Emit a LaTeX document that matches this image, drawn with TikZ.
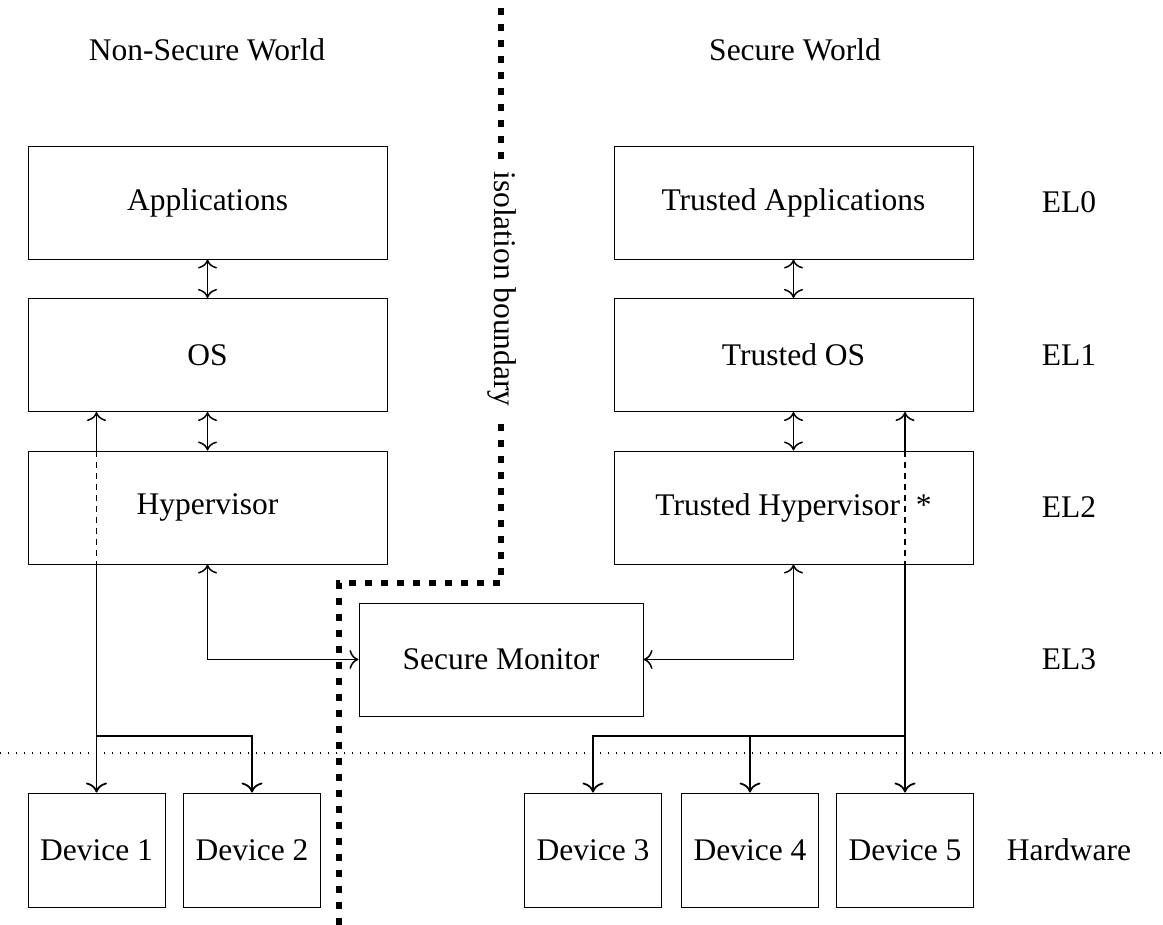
\documentclass[tikz,border=0pt]{standalone}
\usepackage{fontspec}
\setmainfont{Liberation Serif}
\usetikzlibrary{arrows.meta}
\begin{document}
\begin{tikzpicture}[x=0.5pt,y=-0.5pt,
  every node/.style={font=\fontsize{15.75}{19}\selectfont},
  tip/.tip={To[scale=1.4]},
  layer/.style={draw, line width=0.45pt, minimum width=179.5pt, minimum height=56.5pt, inner sep=0pt},
  device/.style={draw, line width=0.45pt, minimum width=68.5pt, minimum height=57pt, inner sep=0pt},
  link/.style={line width=0.75pt, tip-tip},
  uplink/.style={line width=0.75pt, tip-},
  bus/.style={line width=0.9pt, -tip},
  passthru/.style={line width=0.75pt, dash pattern=on 3pt off 2.5pt},
  boundary/.style={line width=3pt, dash pattern=on 3.5pt off 4.5pt},
  hwline/.style={line width=0.6pt, dash pattern=on 0.6pt off 3.4pt},
]
\useasboundingbox (0,0) rectangle (1163,925);

% world headings
\node (nsw) at (207,50) {Non-Secure World};
\node (sw)  at (795,50) {Secure World};

% non-secure stack
\node[layer] (app) at (207.5,202.5) {Applications};
\node[layer] (os)  at (207.5,355)   {OS};
\node[layer] (hyp) at (207.5,507.5) {Hypervisor};

% secure stack
\node[layer] (tapp) at (793.5,202.5) {Trusted Applications};
\node[layer] (tos)  at (793.5,355)   {Trusted OS};
\node[layer] (thyp) at (793.5,507.5) {Trusted Hypervisor\hspace{0.5em}*};

% monitor
\node[draw, line width=0.45pt, minimum width=142pt, minimum height=56.5pt, inner sep=0pt] (mon) at (501,659.5) {Secure Monitor};

% exception levels
\node (el0) at (1069,202.5) {EL0};
\node (el1) at (1069,355)   {EL1};
\node (el2) at (1069,507.5) {EL2};
\node (el3) at (1069,659.5) {EL3};
\node (hw)  at (1069,850)   {Hardware};

% devices
\node[device] (dev1) at (96.5,850) {Device 1};
\node[device] (dev2) at (252,850)  {Device 2};
\node[device] (dev3) at (593,850)  {Device 3};
\node[device] (dev4) at (750,850)  {Device 4};
\node[device] (dev5) at (905,850)  {Device 5};

% hardware separator
\coordinate (hwl) at (0,753);
\coordinate (hwr) at (1163,753);
\draw[hwline] (hwl) -- (hwr);

% isolation boundary
\coordinate (b0) at (501,8);
\coordinate (b1) at (501,583);
\coordinate (b2) at (339,583);
\coordinate (b3) at (339,925);
\draw[boundary] (b0) -- (b1) -- (b2) -- (b3);
\node[rotate=-90, fill=white, inner xsep=4pt, inner ysep=1pt] (iso) at (502,289) {isolation boundary};

% stack links
\draw[link] (app.south) -- (os.north);
\draw[link] (os.south) -- (hyp.north);
\draw[link] (tapp.south) -- (tos.north);
\draw[link] (tos.south) -- (thyp.north);
\draw[link] (hyp.south) |- (mon.west);
\draw[link] (thyp.south) |- (mon.east);

% device access, non-secure side
\coordinate (busy) at (0,736);
\draw[uplink] (os.south -| dev1.north) -- (hyp.north -| dev1.north);
\draw[passthru] (hyp.north -| dev1.north) -- (hyp.south -| dev1.north);
\draw[bus] (hyp.south -| dev1.north) -- (dev1.north);
\draw[bus] (dev1.north |- busy) -| (dev2.north);

% device access, secure side
\draw[uplink] (tos.south -| dev5.north) -- (thyp.north -| dev5.north);
\draw[passthru] (thyp.north -| dev5.north) -- (thyp.south -| dev5.north);
\draw[bus] (thyp.south -| dev5.north) -- (dev5.north);
\draw[bus] (dev5.north |- busy) -| (dev3.north);
\draw[bus] (dev4.north |- busy) -- (dev4.north);
\end{tikzpicture}
\end{document}
